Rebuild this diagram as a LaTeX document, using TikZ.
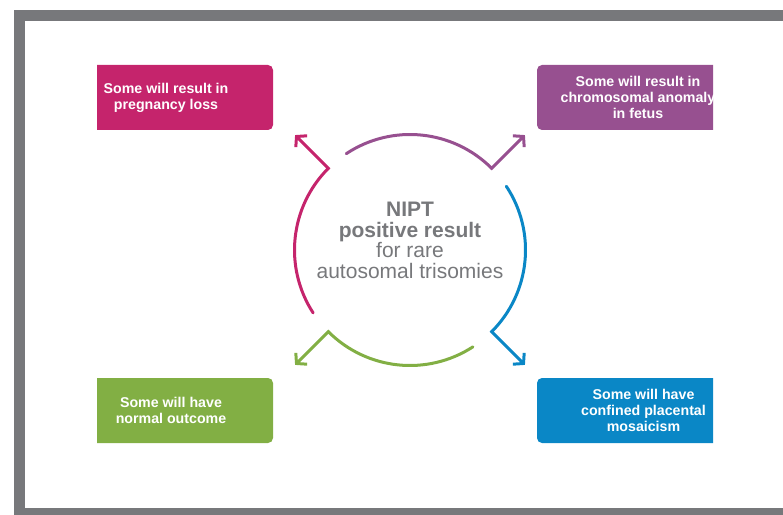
\documentclass[tikz,border=0pt]{standalone}
\usepackage{fontspec}
\setmainfont{Liberation Sans}
\usepackage{tikz}
\usetikzlibrary{arrows.meta,positioning,calc}
\definecolor{Frame}{HTML}{77787B}
\definecolor{Slate}{HTML}{77787B}
\definecolor{Pink}{HTML}{C5246C}
\definecolor{Plum}{HTML}{975090}
\definecolor{Leaf}{HTML}{82AF44}
\definecolor{Sky}{HTML}{0A87C6}

\begin{document}
\begin{tikzpicture}[x=1pt,y=1pt,
    outcome/.style={rounded corners=5pt,minimum height=65pt,inner sep=0pt,
      text=white,align=center,font=\fontsize{14.2}{16}\selectfont\bfseries},
    ring/.style={line width=3pt,line cap=round,
      -{Straight Barb[length=7pt,width=16pt]}}]
  \useasboundingbox (0,0) rectangle (783,514);
  \clip (0,0) rectangle (783,514);
  % grey frame, open on the right
  \draw[Frame,line width=11pt] (800,498.5) -- (19.5,498.5) -- (19.5,0.5) -- (800,0.5);
  % outcome boxes, cropped at the column edges
  \begin{scope}
    \clip (97,0) rectangle (713,514);
    \node[outcome,fill=Pink,minimum width=214pt] (loss) at (166,416.5)
      {Some will result in\\pregnancy loss};
    \node[outcome,fill=Plum,minimum width=202pt] (anomaly) at (638,416.5)
      {Some will result in\\chromosomal anomaly\\in fetus};
    \node[outcome,fill=Leaf,minimum width=204pt] (normal) at (171,103.5)
      {Some will have\\normal outcome};
    \node[outcome,fill=Sky,minimum width=213pt] (mosaic) at (643.5,103.5)
      {Some will have\\confined placental\\mosaicism};
  \end{scope}
  % centre of the ring
  \coordinate (hub) at (410,264);
  \node[text=Slate,align=center,font=\fontsize{21}{20.7}\selectfont] (nipt) at (410,273.5)
    {\textbf{NIPT}\\\textbf{positive result}\\for rare\\autosomal trisomies};
  % ring arcs, each bending out to its box
  \draw[ring,Pink] ([shift={(213:115.5)}]hub) arc[start angle=213,end angle=135,radius=115.5] -- ++(135:47);
  \draw[ring,Plum] ([shift={(123.5:115.5)}]hub) arc[start angle=123.5,end angle=45,radius=115.5] -- ++(45:47);
  \draw[ring,Sky] ([shift={(33.5:115.5)}]hub) arc[start angle=33.5,end angle=-45,radius=115.5] -- ++(-45:47);
  \draw[ring,Leaf] ([shift={(-57:115.5)}]hub) arc[start angle=-57,end angle=-135,radius=115.5] -- ++(-135:47);
\end{tikzpicture}
\end{document}
